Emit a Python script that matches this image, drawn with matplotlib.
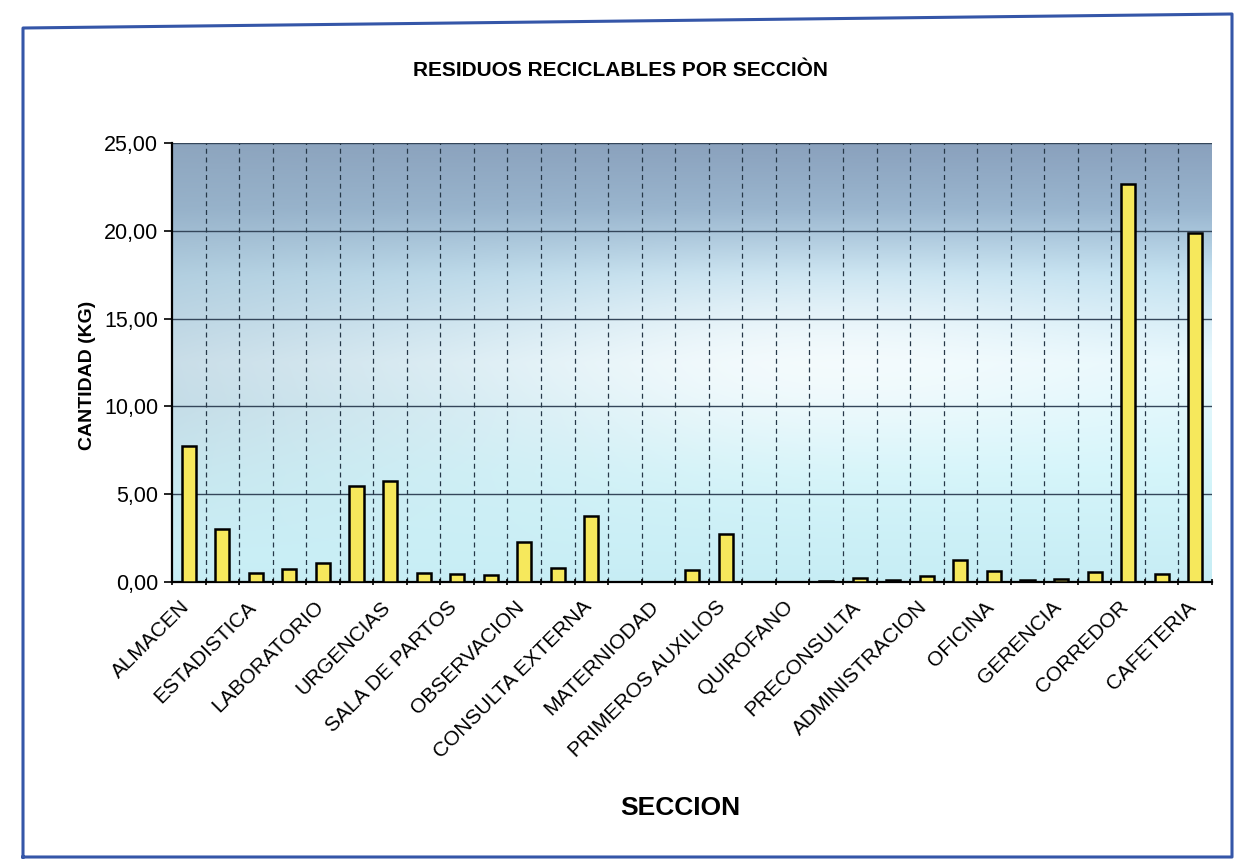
import numpy as np
import matplotlib
matplotlib.use("Agg")
import matplotlib.pyplot as plt
from matplotlib import font_manager
from matplotlib.lines import Line2D

# ---------------- data ----------------
values = [7.76, 3.04, 0.51, 0.76, 1.08, 5.49, 5.73, 0.51, 0.47, 0.38,
          2.28, 0.78, 3.74, 0.00, 0.00, 0.70, 2.75, 0.00, 0.00, 0.05,
          0.25, 0.13, 0.34, 1.26, 0.60, 0.13, 0.15, 0.57, 22.64, 0.43,
          19.90]
tick_labels = ["ALMACEN", "ESTADISTICA", "LABORATORIO", "URGENCIAS",
               "SALA DE PARTOS", "OBSERVACION", "CONSULTA EXTERNA",
               "MATERNIODAD", "PRIMEROS AUXILIOS", "QUIROFANO",
               "PRECONSULTA", "ADMINISTRACION", "OFICINA", "GERENCIA",
               "CORREDOR", "CAFETERIA"]
label_step = 2
y_ticks = [0, 5, 10, 15, 20, 25]
title = "RESIDUOS RECICLABLES POR SECCIÒN"
xlabel = "SECCION"
ylabel = "CANTIDAD (KG)"

# ---------------- fonts ----------------
avail = {f.name for f in font_manager.fontManager.ttflist}
base = "Liberation Sans" if "Liberation Sans" in avail else "DejaVu Sans"
plt.rcParams["font.family"] = [base, "DejaVu Sans"]

W, H = 1239, 861
fig = plt.figure(figsize=(W / 100, H / 100), dpi=100)
fig.patch.set_facecolor("white")

L, R, B, T = 172, 1212, 582, 143
ax = fig.add_axes([L / W, 1 - B / H, (R - L) / W, (B - T) / H])

n = len(values)
x = np.arange(n)

# background gradient (smooth)
ny, nx = 300, 300
t = np.linspace(1, 0, ny)            # 1 = top
s = np.linspace(0, 1, nx)
stops_t = [0.0, 0.25, 0.5, 0.7, 0.85, 1.0]
cols = np.array([[0.78, 0.93, 0.96],
                 [0.83, 0.96, 0.98],
                 [0.90, 0.97, 0.99],
                 [0.76, 0.88, 0.94],
                 [0.60, 0.71, 0.81],
                 [0.54, 0.63, 0.74]])
base_col = np.stack([np.interp(t, stops_t, cols[:, c]) for c in range(3)],
                    axis=-1)             # (ny, 3)
img = np.repeat(base_col[:, None, :], nx, axis=1)
T2, S2 = np.meshgrid(t, s, indexing="ij")
leftdark = 0.35 * (1 - S2) ** 2.2 * np.clip((T2 - 0.05) / 0.35, 0, 1)
gray = np.array([0.58, 0.68, 0.76])
img = img * (1 - leftdark[..., None]) + gray * leftdark[..., None]
shine = np.exp(-((S2 - 0.62) ** 2) / 0.08) * np.exp(-((T2 - 0.5) ** 2) / 0.04)
img = img + (1 - img) * 0.6 * shine[..., None]
img = np.clip(img, 0, 1)
ax.imshow(img, extent=[0, 1, 0, 1], transform=ax.transAxes, aspect="auto",
          zorder=0, interpolation="bilinear")

ax.set_xlim(-0.5, n - 0.5)
ax.set_ylim(0, 25)

# grid
for v in y_ticks[1:]:
    ax.axhline(v, color="#34465a", lw=1.0, zorder=1)
for b in np.arange(0.5, n - 0.5, 1):
    ax.axvline(b, color="#263848", lw=0.9, ls=(0, (4, 3)), zorder=1)

ax.bar(x, values, width=0.42, color="#f6e85c", edgecolor="black",
       linewidth=1.8, zorder=3)

# ticks
ax.set_yticks(y_ticks)
ax.set_yticklabels([f"{v:.2f}".replace(".", ",") for v in y_ticks],
                   fontsize=15.5)
ax.set_xticks(np.arange(-0.5, n, 1), minor=True)
ax.set_xticks(x[::label_step] - 0.28)
ax.set_xticklabels(tick_labels, rotation=45, ha="right", va="top",
                   rotation_mode="anchor", fontsize=15)
ax.tick_params(axis="x", which="major", length=0, pad=11)
ax.tick_params(axis="x", which="minor", length=5, direction="inout",
               width=1.2)
ax.tick_params(axis="y", length=6, direction="out", width=1.2, pad=4)

for sp in ["top", "right"]:
    ax.spines[sp].set_visible(False)
ax.spines["left"].set_linewidth(1.6)
ax.spines["bottom"].set_linewidth(1.6)

# texts
fig.text(620 / W, 1 - 70 / H, title, ha="center", va="center",
         fontweight="bold", fontsize=15)
fig.text(680 / W, 1 - 808 / H, xlabel, ha="center", va="center",
         fontweight="bold", fontsize=19)
fig.text(88 / W, 1 - 375 / H, ylabel, ha="center", va="center",
         rotation=90, fontweight="bold", fontsize=14)

# page frame
frame_x = [23 / W, 23 / W, 1232 / W, 1232 / W, 23 / W]
frame_y = [1 - 857 / H, 1 - 28 / H, 1 - 14 / H, 1 - 857 / H, 1 - 857 / H]
fig.add_artist(Line2D(frame_x, frame_y, color="#3556a8", lw=2.2,
                      transform=fig.transFigure))

fig.savefig("out.png", dpi=100, facecolor="white")
